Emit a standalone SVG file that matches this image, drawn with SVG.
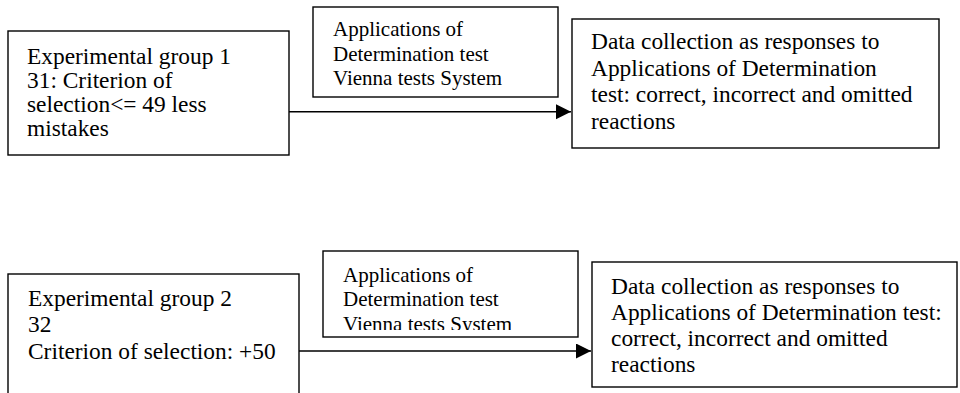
<svg xmlns="http://www.w3.org/2000/svg" width="960" height="393" viewBox="0 0 960 393">
<style>
.box{fill:#fff;stroke:#000;stroke-width:1.4}
.big{font-size:23.4px;fill:#000}
.mid{font-size:21px;fill:#000}
.conn{stroke:#000;stroke-width:1.4;fill:none}
</style>
<defs>
<marker id="ah" markerUnits="userSpaceOnUse" markerWidth="16" markerHeight="16" refX="15" refY="7.5" orient="auto">
<path d="M0,0 L15,7.5 L0,15 Z" fill="#000"/>
</marker>
<clipPath id="clip5"><rect x="323" y="251" width="255" height="79"/></clipPath>
</defs>
<rect width="960" height="393" fill="#fff"/>
<g font-family="Liberation Serif, Times New Roman, DejaVu Serif, serif">
<g id="group1">
<rect class="box" x="8" y="31" width="281" height="124"/>
<text class="big" x="27" y="64">Experimental group 1</text>
<text class="big" x="27" y="88">31: Criterion of</text>
<text class="big" x="27" y="112">selection&lt;= 49 less</text>
<text class="big" x="27" y="136">mistakes</text>
</g>
<g id="test1">
<rect class="box" x="313" y="7" width="245" height="90"/>
<text class="mid" x="333" y="36">Applications of</text>
<text class="mid" x="333" y="61">Determination test</text>
<text class="mid" x="333" y="85">Vienna tests System</text>
</g>
<g id="data1">
<rect class="box" x="572" y="19" width="367" height="129"/>
<text class="big" x="591" y="49">Data collection as responses to</text>
<text class="big" x="591" y="75.5">Applications of Determination</text>
<text class="big" x="591" y="102">test: correct, incorrect and omitted</text>
<text class="big" x="591" y="128.5">reactions</text>
</g>
<g id="group2">
<rect class="box" x="8" y="274" width="291" height="130"/>
<text class="big" x="28" y="305.5">Experimental group 2</text>
<text class="big" x="28" y="332">32</text>
<text class="big" x="28" y="358.5">Criterion of selection: +50</text>
</g>
<g id="test2">
<rect class="box" x="323" y="251" width="255" height="86"/>
<g clip-path="url(#clip5)">
<text class="mid" x="343" y="282">Applications of</text>
<text class="mid" x="343" y="306">Determination test</text>
<text class="mid" x="343" y="330.5">Vienna tests System</text>
</g>
</g>
<g id="data2">
<rect class="box" x="592" y="262" width="365" height="125"/>
<text class="big" x="611" y="293.5">Data collection as responses to</text>
<text class="big" x="611" y="320">Applications of Determination test:</text>
<text class="big" x="611" y="346">correct, incorrect and omitted</text>
<text class="big" x="611" y="372">reactions</text>
</g>
</g>
<g id="connectors">
<line class="conn" x1="289" y1="111.7" x2="571" y2="111.7" marker-end="url(#ah)"/>
<line class="conn" x1="299" y1="351" x2="591" y2="351" marker-end="url(#ah)"/>
</g>
</svg>
